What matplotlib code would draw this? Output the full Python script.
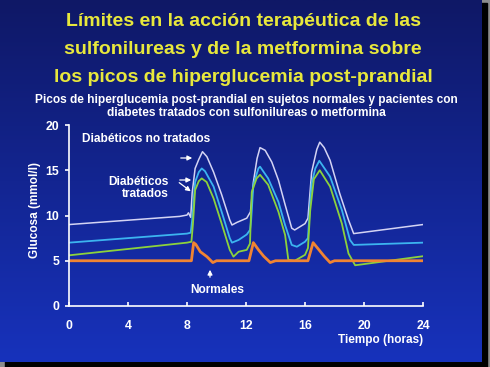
import numpy as np
import matplotlib
matplotlib.use("Agg")
import matplotlib.pyplot as plt
from matplotlib.patches import Rectangle

plt.rcParams['font.family'] = ['Liberation Sans', 'DejaVu Sans']
plt.rcParams['font.weight'] = 'bold'

# Diabéticos no tratados
t_nt = [0, 7.5, 8.0, 8.1, 8.25, 8.35, 8.55, 8.8, 9.05, 9.35, 9.8, 10.35, 10.9, 11.05, 11.4,
        12.05, 12.3, 12.5, 12.75, 12.95, 13.3, 13.75, 14.2, 14.65, 15.1, 15.3, 15.65, 16.0,
        16.2, 16.45, 16.8, 17.0, 17.3, 17.7, 18.35, 18.95, 19.3, 24]
g_nt = [9.0, 9.9, 10.05, 10.3, 9.8, 12.5, 15.2, 16.2, 17.05, 16.5, 14.8, 12.3, 9.5, 8.95, 9.25,
        9.7, 10.4, 13.7, 16.3, 17.5, 17.2, 15.9, 13.9, 11.2, 8.6, 8.4, 8.75, 9.1,
        9.7, 14.8, 17.3, 18.1, 17.5, 16.1, 12.45, 9.5, 8.0, 9.0]

# Diabéticos tratados (1)
t_tr1 = [0, 8.0, 8.25, 8.35, 8.55, 8.8, 9.0, 9.22, 9.8, 10.35, 10.9, 11.05, 11.5, 12.05,
         12.27, 12.35, 12.5, 12.84, 12.95, 13.5, 14.2, 14.65, 15.1, 15.45, 16.0, 16.2, 16.3,
         16.45, 16.7, 16.97, 17.7, 18.5, 19.05, 19.3, 24]
g_tr1 = [7.0, 8.0, 8.1, 9.5, 13.7, 14.8, 15.2, 14.9, 13.2, 10.4, 7.5, 7.0, 7.3, 7.9,
         8.4, 9.5, 13.4, 15.2, 15.4, 14.1, 11.5, 8.95, 6.75, 6.55, 7.1, 7.5, 10.0,
         13.5, 15.2, 16.05, 14.3, 10.6, 7.3, 6.75, 7.0]

# Diabéticos tratados (2)
t_tr2 = [0, 8.0, 8.3, 8.4, 8.55, 8.8, 9.0, 9.33, 9.8, 10.35, 10.9, 11.15, 11.5, 12.05, 12.27,
         12.39, 12.72, 12.95, 13.5, 14.2, 14.65, 14.87, 15.3, 16.0, 16.2, 16.35, 16.6, 17.0,
         17.7, 18.5, 18.95, 19.4, 24]
g_tr2 = [5.6, 7.0, 7.1, 9.0, 12.8, 13.8, 14.1, 13.7, 11.9, 9.1, 6.2, 5.45, 6.0, 6.2, 6.9,
         12.6, 14.1, 14.5, 13.4, 10.4, 7.85, 5.1, 5.0, 5.65, 6.4, 10.5, 14.0, 15.0,
         13.2, 9.1, 5.8, 4.5, 5.5]

# Normales
t_norm = [0, 8.3, 8.45, 8.6, 8.9, 9.35, 9.75, 10.0, 12.2, 12.5, 12.85, 13.2, 13.65, 14.0,
          16.2, 16.55, 16.9, 17.3, 17.7, 18.0, 24]
g_norm = [5.0, 5.0, 7.0, 6.8, 6.0, 5.45, 4.8, 5.0, 5.0, 7.0, 6.2, 5.5, 4.8, 5.0,
          5.0, 7.0, 6.3, 5.5, 4.8, 5.0, 5.0]

x_ticks = [0, 4, 8, 12, 16, 20, 24]
y_ticks = [0, 5, 10, 15, 20]

W, H = 490, 367
fig = plt.figure(figsize=(W / 100, H / 100), dpi=100, facecolor='#8c8c8c')

# slide background (pixel coordinates)
bg = fig.add_axes([0, 0, 1, 1])
bg.axis('off')
bg.add_patch(Rectangle((5, 3), 482, 364, color='black', zorder=0))
grad = np.linspace(0, 1, 256).reshape(-1, 1)
cmap = matplotlib.colors.LinearSegmentedColormap.from_list('slide', ['#0f1866', '#1732bc'])
bg.imshow(grad, cmap=cmap, extent=(0, 481, 362, 0), aspect='auto', zorder=1)
bg.set_xlim(0, W)
bg.set_ylim(H, 0)

yellow = '#e8e83c'
bg.text(243, 21, 'Límites en la acción terapéutica de las', color=yellow,
        fontsize=14, ha='center', va='center', zorder=3)
bg.text(243, 49, 'sulfonilureas y de la metformina sobre', color=yellow,
        fontsize=14, ha='center', va='center', zorder=3)
bg.text(243, 77, 'los picos de hiperglucemia post-prandial', color=yellow,
        fontsize=14, ha='center', va='center', zorder=3)
bg.text(246, 100, 'Picos de hiperglucemia post-prandial en sujetos normales y pacientes con',
        color='white', fontsize=8.6, ha='center', va='center', zorder=3)
bg.text(246, 113, 'diabetes tratados con sulfonilureas o metformina',
        color='white', fontsize=8.6, ha='center', va='center', zorder=3)

bg.text(35, 210, 'Glucosa (mmol/l)', color='white', fontsize=8.5, rotation=90,
        ha='center', va='center', zorder=3)
bg.text(423, 340, 'Tiempo (horas)', color='white', fontsize=8.5,
        ha='right', va='center', zorder=3)

bg.text(82, 139, 'Diabéticos no tratados', color='white', fontsize=8.6,
        ha='left', va='center', zorder=3)
bg.text(169, 188, 'Diabéticos\ntratados', color='white', fontsize=8.6,
        ha='right', va='center', linespacing=1.1, zorder=3)
bg.text(217, 290, 'Normales', color='white', fontsize=8.6,
        ha='center', va='center', zorder=3)

arrow = dict(arrowstyle='-|>', color='white', lw=0.9, mutation_scale=7)
bg.annotate('', xy=(195, 158), xytext=(178, 158), arrowprops=arrow, zorder=4)
bg.annotate('', xy=(194, 180), xytext=(177, 180), arrowprops=arrow, zorder=4)
bg.annotate('', xy=(193, 193), xytext=(177, 181), arrowprops=arrow, zorder=4)
bg.annotate('', xy=(210, 267), xytext=(210, 280), arrowprops=arrow, zorder=4)

# chart
ax = fig.add_axes([69 / W, 1 - 306 / H, 354 / W, 181 / H])
ax.patch.set_alpha(0)
ax.plot(t_nt, g_nt, color='#d4d4f4', lw=1.1)
ax.plot(t_tr1, g_tr1, color='#3cb4f0', lw=1.3)
ax.plot(t_tr2, g_tr2, color='#8cd23c', lw=1.3)
ax.plot(t_norm, g_norm, color='#f08432', lw=2.0)

ax.set_xlim(0, 24)
ax.set_ylim(0, 20)
ax.set_xticks(x_ticks)
ax.set_yticks(y_ticks)
for s in ['top', 'right']:
    ax.spines[s].set_visible(False)
for s in ['left', 'bottom']:
    ax.spines[s].set_color('white')
    ax.spines[s].set_linewidth(1.2)
ax.tick_params(axis='x', direction='in', length=3, width=1.2, color='white',
               labelcolor='white', labelsize=8.8, pad=10)
ax.tick_params(axis='y', direction='out', length=3, width=1.2, color='white',
               labelcolor='white', labelsize=8.8, pad=4)

fig.savefig('out.png', dpi=100, facecolor=fig.get_facecolor())
